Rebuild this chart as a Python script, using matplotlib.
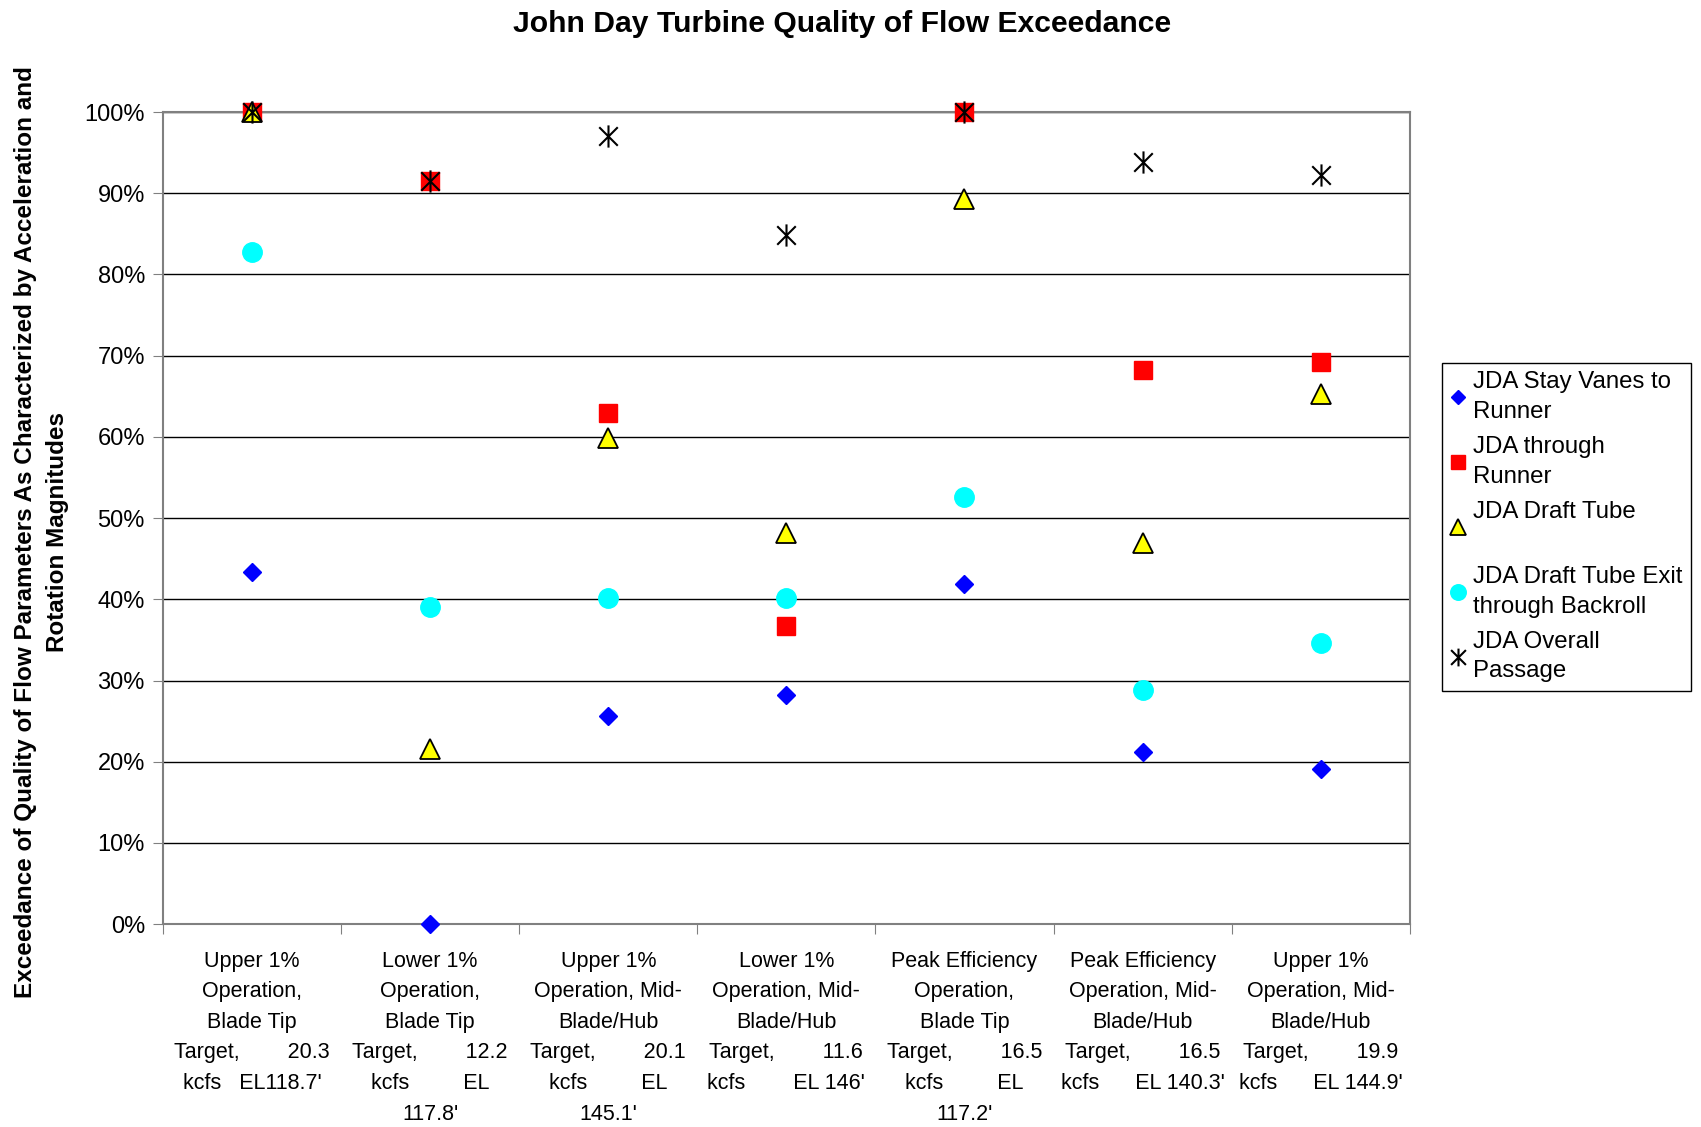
import matplotlib
matplotlib.use('Agg')
import matplotlib.pyplot as plt
from matplotlib.path import Path
from matplotlib.ticker import FixedLocator, PercentFormatter

plt.rcParams['font.family'] = ['Liberation Sans', 'DejaVu Sans']

categories = [
    "Upper 1%\nOperation,\nBlade Tip\nTarget,        20.3\nkcfs   EL118.7'",
    "Lower 1%\nOperation,\nBlade Tip\nTarget,        12.2\nkcfs         EL\n117.8'",
    "Upper 1%\nOperation, Mid-\nBlade/Hub\nTarget,        20.1\nkcfs         EL\n145.1'",
    "Lower 1%\nOperation, Mid-\nBlade/Hub\nTarget,        11.6\nkcfs        EL 146'",
    "Peak Efficiency\nOperation,\nBlade Tip\nTarget,        16.5\nkcfs         EL\n117.2'",
    "Peak Efficiency\nOperation, Mid-\nBlade/Hub\nTarget,        16.5\nkcfs      EL 140.3'",
    "Upper 1%\nOperation, Mid-\nBlade/Hub\nTarget,        19.9\nkcfs      EL 144.9'",
]

stay_vanes = [43.4, 0.0, 25.6, 28.2, 41.9, 21.2, 19.1]
through_runner = [100.0, 91.5, 62.9, 36.7, 100.0, 68.2, 69.2]
draft_tube = [100.0, 21.6, 59.9, 48.2, 89.3, 46.9, 65.3]
draft_tube_exit = [82.8, 39.1, 40.1, 40.1, 52.6, 28.8, 34.6]
overall = [100.0, 91.5, 97.1, 84.9, 100.0, 93.9, 92.3]

series_labels = [
    "JDA Stay Vanes to\nRunner",
    "JDA through\nRunner",
    "JDA Draft Tube\n ",
    "JDA Draft Tube Exit\nthrough Backroll",
    "JDA Overall\nPassage",
]

# Excel-style star: an X with a vertical stroke through it
star = Path(
    [(-1, -1), (1, 1), (-1, 1), (1, -1), (0, -1.2), (0, 1.2)],
    [Path.MOVETO, Path.LINETO, Path.MOVETO, Path.LINETO, Path.MOVETO, Path.LINETO],
)

fig = plt.figure(figsize=(17.01, 11.27), dpi=100)
ax = fig.add_axes([0.0958, 0.180, 0.733, 0.7206])

x = [i + 0.5 for i in range(len(categories))]

ax.plot(x, stay_vanes, linestyle='none', marker='D', ms=9.5, clip_on=False,
        color='#0000FF', mec='#0000FF', label=series_labels[0], zorder=3)
ax.plot(x, through_runner, linestyle='none', marker='s', ms=12.5, clip_on=False,
        color='#FF0000', mec='#FF0000', label=series_labels[1], zorder=3)
ax.plot(x, draft_tube, linestyle='none', marker='^', ms=14, clip_on=False,
        color='#FFFF00', mec='black', mew=1.3, label=series_labels[2], zorder=3)
ax.plot(x, draft_tube_exit, linestyle='none', marker='o', ms=14, clip_on=False,
        color='#00FFFF', mec='#00FFFF', label=series_labels[3], zorder=3)
ax.plot(x, overall, linestyle='none', marker=star, ms=16, clip_on=False,
        color='black', mec='black', mew=1.5, label=series_labels[4], zorder=4)

ax.set_xlim(0, len(categories))
ax.set_ylim(0, 100)

ax.yaxis.set_major_locator(FixedLocator(range(0, 101, 10)))
ax.yaxis.set_major_formatter(PercentFormatter(decimals=0))
ax.grid(axis='y', color='black', linewidth=1.0)
ax.set_axisbelow(True)

ax.xaxis.set_major_locator(FixedLocator(range(0, len(categories) + 1)))
ax.xaxis.set_major_formatter(plt.NullFormatter())
ax.xaxis.set_minor_locator(FixedLocator(x))
ax.set_xticklabels(categories, minor=True, fontsize=15.5, linespacing=1.6)
ax.tick_params(axis='x', which='minor', length=0, pad=19)
ax.tick_params(axis='x', which='major', length=7, direction='out', color='#808080')
ax.tick_params(axis='y', length=7, direction='out', color='#808080',
               labelsize=17, pad=6)

for side in ['left', 'right', 'top', 'bottom']:
    ax.spines[side].set_color('#808080')
    ax.spines[side].set_linewidth(1.5)

fig.text(0.495, 0.979, "John Day Turbine Quality of Flow Exceedance",
         ha='center', va='center', fontsize=21.7, fontweight='bold')
fig.text(0.0245, 0.528,
         "Exceedance of Quality of Flow Parameters As Characterized by Acceleration and\nRotation Magnitudes",
         ha='center', va='center', rotation=90, fontsize=17.5, fontweight='bold',
         multialignment='center', linespacing=1.5)

leg = ax.legend(loc='upper left', bbox_to_anchor=(0.8477, 0.678),
                bbox_transform=fig.transFigure, fontsize=17.3, frameon=True,
                fancybox=False, edgecolor='black', framealpha=1,
                handlelength=0.65, handletextpad=0.3, labelspacing=0.55,
                borderpad=0.35, borderaxespad=0, markerscale=0.8)
leg.get_frame().set_linewidth(1.0)
for t in leg.get_texts():
    t.set_linespacing(1.45)

fig.savefig('out.png', dpi=100)
